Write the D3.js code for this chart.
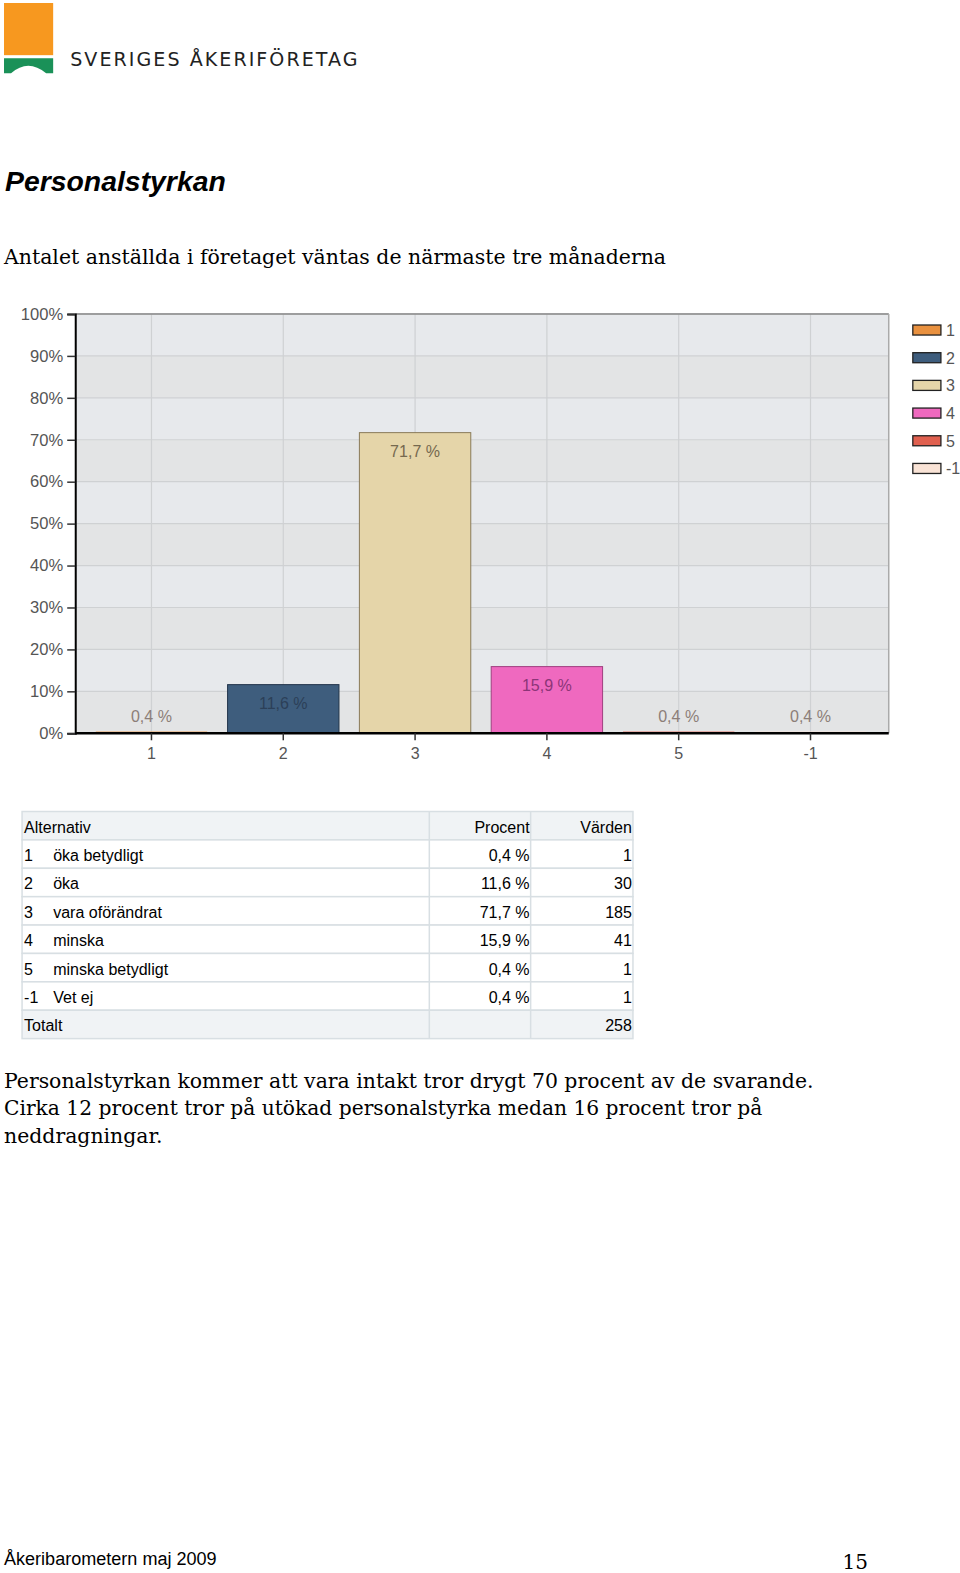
<!DOCTYPE html>
<html><head><meta charset="utf-8">
<script src="https://cdn.jsdelivr.net/npm/d3@7/dist/d3.min.js"></script>
<style>
html,body{margin:0;padding:0;background:#fff;}
svg{display:block;}
</style></head>
<body>
<script>
// ---- data ----
const categories = ["1","2","3","4","5","-1"];
const percents = [0.4, 11.6, 71.7, 15.9, 0.4, 0.4];
const counts = [1, 30, 185, 41, 1, 1];
const labels = ["öka betydligt","öka","vara oförändrat","minska","minska betydligt","Vet ej"];
const total = 258;
const yTicks = [0,10,20,30,40,50,60,70,80,90,100];
const barColors = ["#e9913f","#3e5d7d","#e5d5a9","#ef69bf","#e0604f","#f9e3d6"];
const barStrokes = ["#9a5a20","#22344a","#8a7a58","#a04080","#903a30","#404040"];
const labelColors = ["#8c7e78","#2c4058","#75694f","#8c3578","#8c7e78","#8c7e78"];

const W = 960, H = 1573;
const svgRoot = d3.select("body").append("svg").attr("width", W).attr("height", H);
const svg = svgRoot.append("g").attr("transform","scale(1.0031)");

// ---- logo ----
svg.append("rect").attr("x",4).attr("y",3).attr("width",49).attr("height",52).attr("fill","#f7981f");
svg.append("path").attr("d","M4,58 L53,58 L53,73 L46,73 Q28,58 11,73 L4,73 Z").attr("fill","#1a9158");
svg.append("text").attr("x",70).attr("y",66).attr("font-family","'DejaVu Sans', 'Liberation Sans', sans-serif")
  .attr("font-size",19).attr("letter-spacing",2.05).attr("fill","#222").text("SVERIGES ÅKERIFÖRETAG");

// ---- title ----
svg.append("text").attr("x",5).attr("y",190).attr("font-family","'Liberation Sans', Arial, sans-serif")
  .attr("font-size",28.3).attr("font-weight","bold").attr("font-style","italic").attr("fill","#000").text("Personalstyrkan");
svg.append("text").attr("x",4).attr("y",263).attr("font-family","'DejaVu Serif', serif")
  .attr("font-size",20).attr("fill","#000").attr("textLength",660).attr("lengthAdjust","spacingAndGlyphs")
  .text("Antalet anställda i företaget väntas de närmaste tre månaderna");

// ---- chart ----
const px0 = 75, px1 = 886, py0 = 313, py1 = 731;
const x = d3.scaleBand().domain(categories).range([85.3, 873.7]).paddingInner(0.155).paddingOuter(0.0775);
const y = d3.scaleLinear().domain([0,100]).range([py1, py0]);
const g = svg.append("g");

// background stripes
for (let i = 0; i < 10; i++) {
  g.append("rect").attr("x",px0).attr("y",y(yTicks[i+1])).attr("width",px1-px0).attr("height",y(yTicks[i])-y(yTicks[i+1]))
    .attr("fill", i % 2 === 1 ? "#e7e9ec" : "#e3e4e5");
}
// gridlines
g.selectAll(".hg").data(yTicks.slice(1)).join("line").attr("x1",px0).attr("x2",px1)
  .attr("y1",d=>y(d)).attr("y2",d=>y(d)).attr("stroke","#cfd1d3").attr("stroke-width",1.2);
g.selectAll(".vg").data(categories).join("line").attr("x1",d=>x(d)+x.bandwidth()/2).attr("x2",d=>x(d)+x.bandwidth()/2)
  .attr("y1",py0).attr("y2",py1).attr("stroke","#cfd1d3").attr("stroke-width",1.2);
// border top/right
g.append("line").attr("x1",px0).attr("x2",px1).attr("y1",py0).attr("y2",py0).attr("stroke","#888").attr("stroke-width",1.5);
g.append("line").attr("x1",px1).attr("x2",px1).attr("y1",py0).attr("y2",py1).attr("stroke","#aaa").attr("stroke-width",1.5);

// bars
g.selectAll(".bar").data(percents).join("rect")
  .attr("x",(d,i)=>x(categories[i])).attr("width",x.bandwidth())
  .attr("y",d=>y(d)).attr("height",d=>py1-y(d))
  .attr("fill",(d,i)=>barColors[i])
  .attr("stroke",(d,i)=> (py1-y(d)) > 5 ? barStrokes[i] : "none").attr("stroke-width",1);

// labels
g.selectAll(".bl").data(percents).join("text")
  .attr("x",(d,i)=>x(categories[i])+x.bandwidth()/2)
  .attr("y",d=> (py1-y(d)) > 30 ? y(d)+24 : y(d)-10)
  .attr("text-anchor","middle").attr("font-family","'Liberation Sans', Arial, sans-serif").attr("font-size",16)
  .attr("fill",(d,i)=> (py1-y(d)) > 30 ? labelColors[i] : "#8c7e78")
  .text(d=>String(d).replace(".",",") + " %");

// axes
const yAxis = d3.axisLeft(y).tickValues(yTicks).tickSize(8).tickFormat(d=>d+"%");
const ya = svg.append("g").attr("transform",`translate(${px0},0)`).call(yAxis);
ya.select(".domain").attr("stroke","#000").attr("stroke-width",2);
ya.selectAll(".tick line").attr("stroke","#333").attr("stroke-width",1.5);
ya.selectAll(".tick text").attr("font-family","'Liberation Sans', Arial, sans-serif").attr("font-size",16.5).attr("fill","#555").attr("x",-12);

const xAxis = d3.axisBottom(x).tickSize(7).tickSizeOuter(0);
const xa = svg.append("g").attr("transform",`translate(0,${py1})`).call(xAxis);
xa.select(".domain").attr("d",`M${px0},0H${px1}`).attr("stroke","#000").attr("stroke-width",2.5);
xa.selectAll(".tick line").attr("stroke","#333").attr("stroke-width",1.5);
xa.selectAll(".tick text").attr("font-family","'Liberation Sans', Arial, sans-serif").attr("font-size",16).attr("fill","#555").attr("dy","1.0em");

// legend
const lg = svg.append("g");
categories.forEach((c,i)=>{
  const cy = 329 + i*27.6;
  lg.append("rect").attr("x",910).attr("y",cy-5).attr("width",28).attr("height",10)
    .attr("fill",barColors[i]).attr("stroke","#222").attr("stroke-width",1.3);
  lg.append("text").attr("x",943).attr("y",cy+6).attr("font-family","'Liberation Sans', Arial, sans-serif")
    .attr("font-size",16).attr("fill","#555").text(c);
});

// ---- table ----
const tx0 = 22, tc1 = 428, tc2 = 529, tx1 = 631, ty0 = 809, rh = 28.3;
const rows = [["Alternativ","","Procent","Värden"]]
  .concat(categories.map((c,i)=>[c, labels[i], String(percents[i]).replace(".",",")+" %", String(counts[i])]))
  .concat([["Totalt","","",String(total)]]);
const tg = svg.append("g").attr("font-family","'Liberation Sans', Arial, sans-serif").attr("font-size",16).attr("fill","#000");
rows.forEach((r,i)=>{
  const yy = ty0 + i*rh;
  const shaded = (i===0 || i===rows.length-1);
  tg.append("rect").attr("x",tx0).attr("y",yy).attr("width",tx1-tx0).attr("height",rh)
    .attr("fill", shaded ? "#f0f3f5" : "#fff").attr("stroke","#d8dfe3").attr("stroke-width",1.5);
  const by = yy + rh/2 + 7;
  tg.append("text").attr("x",24).attr("y",by).text(r[0]);
  if (r[1]) tg.append("text").attr("x",53).attr("y",by).text(r[1]);
  tg.append("text").attr("x",tc2-1).attr("y",by).attr("text-anchor","end").text(r[2]);
  tg.append("text").attr("x",tx1-1).attr("y",by).attr("text-anchor","end").text(r[3]);
});
[tc1, tc2].forEach(cx=>{
  tg.append("line").attr("x1",cx).attr("x2",cx).attr("y1",ty0).attr("y2",ty0+rh*rows.length).attr("stroke","#d8dfe3").attr("stroke-width",1.5);
});

// ---- paragraph ----
const para = ["Personalstyrkan kommer att vara intakt tror drygt 70 procent av de svarande.",
  "Cirka 12 procent tror på utökad personalstyrka medan 16 procent tror på",
  "neddragningar."];
const paraW = [807, 756, 158];
para.forEach((t,i)=>{
  svg.append("text").attr("x",4).attr("y",1085+i*27).attr("font-family","'DejaVu Serif', serif")
    .attr("font-size",20).attr("fill","#000").attr("textLength",paraW[i]).attr("lengthAdjust","spacingAndGlyphs").text(t);
});

// ---- footer ----
svg.append("text").attr("x",4).attr("y",1560).attr("font-family","'Liberation Sans', Arial, sans-serif")
  .attr("font-size",18).attr("fill","#000").text("Åkeribarometern maj 2009");
svg.append("text").attr("x",840).attr("y",1564).attr("font-family","'DejaVu Serif', serif")
  .attr("font-size",20).attr("fill","#000").text("15");
</script>
</body></html>
